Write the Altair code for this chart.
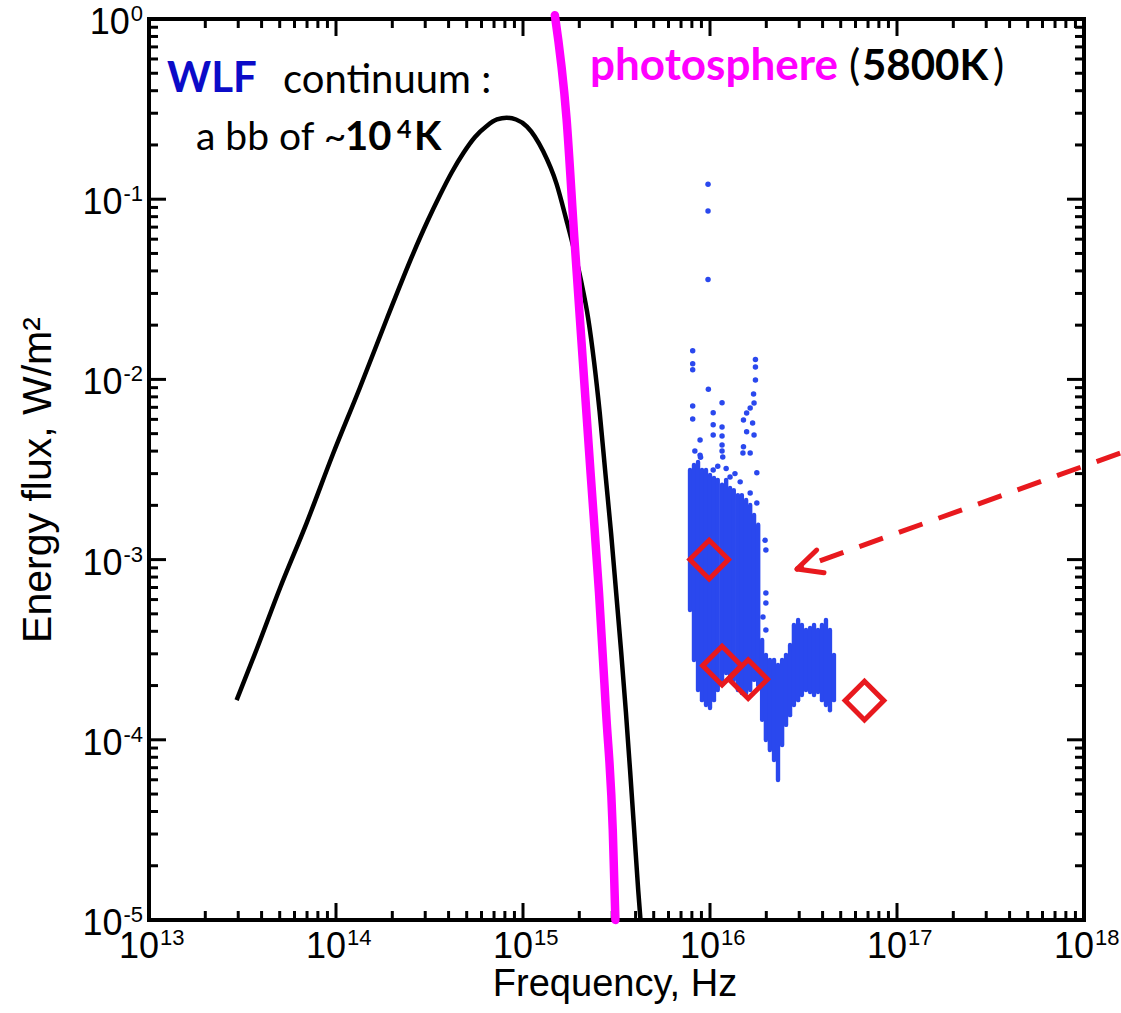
import altair as alt
import pandas as pd

W, H = 935, 901

# ---------------- axis ticks / labels ----------------
x_decades = [1e13, 1e14, 1e15, 1e16, 1e17, 1e18]
x_exponents = ["13", "14", "15", "16", "17", "18"]
y_decades = [1e-5, 1e-4, 1e-3, 1e-2, 1e-1, 1e0]
y_exponents = ["-5", "-4", "-3", "-2", "-1", "0"]
minor_mult = [2, 3, 4, 5, 6, 7, 8, 9]

# ---------------- WLF continuum: black body ~10^4 K ----------------
bb_freq = [2.94e13, 3.77e13, 5.02e13, 6.97e13, 9.67e13, 1.34e14, 1.87e14, 2.59e14,
           3.07e14, 3.60e14, 4.17e14, 4.80e14, 5.54e14, 6.40e14, 7.26e14, 8.18e14,
           9.18e14, 1.05e15, 1.28e15, 1.51e15, 1.71e15, 1.87e15, 2.04e15, 2.23e15,
           2.40e15, 2.57e15, 2.76e15, 2.96e15, 3.15e15, 3.35e15, 3.55e15, 3.74e15,
           3.93e15, 4.13e15, 4.25e15]
bb_flux = [1.66e-4, 3.19e-4, 6.96e-4, 1.60e-3, 3.89e-3, 8.96e-3, 0.0217, 0.0501,
           0.0747, 0.1055, 0.1416, 0.1804, 0.2214, 0.2548, 0.2769, 0.283,
           0.2769, 0.253, 0.185, 0.122, 0.076, 0.0529, 0.0356, 0.0219,
           0.0125, 6.59e-3, 2.99e-3, 1.39e-3, 6.53e-4, 3.07e-4, 1.43e-4, 6.71e-5,
           3.16e-5, 1.47e-5, 1.0e-5]

# ---------------- photosphere 5800 K ----------------
ph_freq = [1.48e15, 1.71e15, 1.88e15, 2.08e15, 2.30e15, 2.55e15, 2.78e15, 3.02e15, 3.12e15]
ph_flux = [1.05, 0.279, 0.0617, 0.0135, 2.99e-3, 6.53e-4, 1.43e-4, 3.16e-5, 1.0e-5]

# ---------------- dense part of the measured points (column extents) ----------------
band_freq = [7.82e15, 8.21e15, 8.63e15, 9.06e15, 9.52e15, 1.00e16, 1.05e16, 1.10e16,
             1.16e16, 1.22e16, 1.28e16, 1.34e16, 1.41e16, 1.48e16, 1.56e16, 1.64e16,
             1.72e16, 1.81e16, 1.90e16, 1.99e16, 2.09e16, 2.20e16, 2.31e16, 2.43e16,
             2.55e16, 2.68e16, 2.81e16, 2.96e16, 3.10e16, 3.26e16, 3.43e16, 3.60e16,
             3.78e16, 3.97e16, 4.17e16, 4.38e16, 4.60e16]
band_top = [3.14e-3, 3.35e-3, 3.48e-3, 3.14e-3, 3.14e-3, 2.95e-3, 2.84e-3, 2.77e-3,
            2.60e-3, 2.77e-3, 2.50e-3, 2.43e-3, 2.28e-3, 2.28e-3, 2.14e-3, 2.01e-3,
            1.77e-3, 1.56e-3, 3.58e-4, 2.96e-4, 2.77e-4, 2.77e-4, 2.60e-4, 2.77e-4,
            2.96e-4, 3.36e-4, 4.34e-4, 4.62e-4, 4.34e-4, 4.07e-4, 4.17e-4, 4.34e-4,
            4.07e-4, 4.34e-4, 4.62e-4, 4.07e-4, 2.96e-4]
band_bottom = [5.25e-4, 2.77e-4, 1.89e-4, 1.66e-4, 1.56e-4, 1.50e-4, 1.66e-4, 1.89e-4,
               2.15e-4, 2.35e-4, 2.29e-4, 2.15e-4, 1.89e-4, 1.82e-4, 1.82e-4, 1.89e-4,
               2.15e-4, 2.01e-4, 1.29e-4, 9.97e-5, 8.77e-5, 7.73e-5, 5.98e-5, 9.35e-5,
               1.21e-4, 1.37e-4, 1.56e-4, 1.66e-4, 1.77e-4, 1.89e-4, 1.84e-4, 1.77e-4,
               1.84e-4, 1.66e-4, 1.56e-4, 1.46e-4, 1.66e-4]

# ---------------- sparse measured points ----------------
dot_freq = [9.76e15, 9.76e15, 9.76e15, 8.08e15, 8.08e15, 8.08e15, 9.8e15, 8.08e15,
            8.08e15, 1.04e16, 1.16e16, 1.04e16, 1.04e16, 1.16e16, 1.16e16, 1.16e16,
            1.16e16, 8.85e15, 8.85e15, 1.75e16, 1.75e16, 1.75e16, 1.71e16, 1.72e16,
            1.64e16, 1.57e16, 1.51e16, 1.69e16, 1.57e16, 1.72e16, 1.51e16, 1.64e16,
            1.17e16, 1.50e16, 1.04e16, 1.28e16, 1.78e16, 1.78e16, 1.64e16, 1.97e16,
            1.99e16, 1.99e16, 1.99e16, 1.92e16, 1.99e16, 8.30e15, 1.10e16, 1.36e16,
            1.45e16, 8.90e15, 1.22e16]
dot_flux = [0.121, 0.0860, 0.0358, 0.0144, 0.0122, 0.0113, 8.81e-3, 7.12e-3,
            6.03e-3, 6.53e-3, 7.43e-3, 5.61e-3, 4.91e-3, 5.44e-3, 4.85e-3, 4.33e-3,
            4.01e-3, 4.61e-3, 3.80e-3, 0.0129, 0.0117, 9.93e-3, 8.30e-3, 7.40e-3,
            6.94e-3, 6.51e-3, 5.95e-3, 5.73e-3, 5.13e-3, 4.91e-3, 4.23e-3, 3.91e-3,
            3.71e-3, 3.91e-3, 3.14e-3, 2.87e-3, 3.03e-3, 2.06e-3, 2.34e-3, 1.28e-3,
            1.13e-3, 6.53e-4, 5.74e-4, 4.80e-4, 4.07e-4, 4.00e-3, 3.30e-3, 3.00e-3,
            2.70e-3, 3.70e-3, 3.20e-3]

# ---------------- red diamonds ----------------
obs_freq = [9.9e15, 1.16e16, 1.60e16, 6.7e16]
obs_flux = [1.0e-3, 2.58e-4, 2.17e-4, 1.65e-4]

# ---------------- dashed arrow ----------------
arrow_tail = (1.56e18, 3.9e-3)
arrow_tip = (2.92e16, 8.87e-4)
arrow_arm_a = (3.72e16, 1.13e-3)
arrow_arm_b = (4.07e16, 8.46e-4)

BLUE = "#2A48EE"
RED = "#E8191E"
MAGENTA = "#FF00FF"
WLF_BLUE = "#0B0BC8"

xs = alt.Scale(type="log", domain=[1e13, 1e18], nice=False)
ys = alt.Scale(type="log", domain=[1e-5, 1], nice=False)


def X(field):
    return alt.X(field, type="quantitative", scale=xs, axis=None)


def Y(field):
    return alt.Y(field, type="quantitative", scale=ys, axis=None)


layers = []

# ---- ticks (inward, on all four sides) ----
xmaj = pd.DataFrame({"v": x_decades})
xmin = pd.DataFrame({"v": [d * m for d in x_decades[:-1] for m in minor_mult]})
ymaj = pd.DataFrame({"v": y_decades})
ymin = pd.DataFrame({"v": [d * m for d in y_decades[:-1] for m in minor_mult]})

for df, L in [(xmaj, 17), (xmin, 9)]:
    layers.append(alt.Chart(df).mark_rule(color="black", strokeWidth=3).encode(
        x=X("v"), y=alt.value(H), y2=alt.value(H - L)))
    layers.append(alt.Chart(df).mark_rule(color="black", strokeWidth=3).encode(
        x=X("v"), y=alt.value(0), y2=alt.value(L)))
for df, L in [(ymaj, 17), (ymin, 9)]:
    layers.append(alt.Chart(df).mark_rule(color="black", strokeWidth=3).encode(
        y=Y("v"), x=alt.value(0), x2=alt.value(L)))
    layers.append(alt.Chart(df).mark_rule(color="black", strokeWidth=3).encode(
        y=Y("v"), x=alt.value(W), x2=alt.value(W - L)))

# ---- tick labels: "10" + superscript exponent ----
xlab = pd.DataFrame({"v": x_decades, "b": ["10"] * 6, "e": x_exponents})
layers.append(alt.Chart(xlab).mark_text(align="right", baseline="alphabetic", fontSize=36,
                                        font="Liberation Sans", dx=10).encode(
    x=X("v"), y=alt.value(H + 38), text="b:N"))
layers.append(alt.Chart(xlab).mark_text(align="left", baseline="alphabetic", fontSize=22,
                                        font="Liberation Sans", dx=11).encode(
    x=X("v"), y=alt.value(H + 25), text="e:N"))

EXP_FS = 22
exp_w = [sum(0.556 if c.isdigit() else 0.333 for c in e) * EXP_FS for e in y_exponents]
ylab = pd.DataFrame({"v": y_decades, "b": ["10"] * 6, "e": y_exponents,
                     "bx": [-6 - w - 1 for w in exp_w]})
layers.append(alt.Chart(ylab).mark_text(align="right", baseline="alphabetic", fontSize=EXP_FS,
                                        font="Liberation Sans", dy=2).encode(
    y=Y("v"), x=alt.value(-6), text="e:N"))
layers.append(alt.Chart(ylab).mark_text(align="right", baseline="alphabetic", fontSize=36,
                                        font="Liberation Sans", dy=15).encode(
    y=Y("v"), x=alt.X("bx:Q", scale=None, axis=None), text="b:N"))


# ---- free text helper ----
def txt(s, x, y, size, color="black", weight="normal", font="Lato", align="left", angle=0):
    return alt.Chart(pd.DataFrame({"t": [s]})).mark_text(
        align=align, baseline="alphabetic", fontSize=size, font=font,
        fontWeight=weight, color=color, angle=angle).encode(
        x=alt.value(x), y=alt.value(y), text="t:N")


# ---- axis titles ----
layers.append(txt("Frequency, Hz", 466, 977, 38, font="Liberation Sans", align="center"))
layers.append(txt("Energy flux, W/m²", -98, 461, 41, font="Liberation Sans",
                  align="center", angle=270))

# ---- black body curve ----
bb = pd.DataFrame({"f": bb_freq, "s": bb_flux})
layers.append(alt.Chart(bb).mark_line(color="black", strokeWidth=4.5,
                                      interpolate="monotone").encode(x=X("f"), y=Y("s")))

# ---- photosphere ----
ph = pd.DataFrame({"f": ph_freq, "s": ph_flux})
layers.append(alt.Chart(ph).mark_line(color=MAGENTA, strokeWidth=8.5, strokeCap="round",
                                      interpolate="monotone").encode(x=X("f"), y=Y("s")))

# ---- measured points ----
band = pd.DataFrame({"f": band_freq, "t": band_top, "b": band_bottom})
layers.append(alt.Chart(band).mark_rule(color=BLUE, strokeWidth=4.4, strokeCap="round").encode(
    x=X("f"), y=Y("t"), y2="b"))
dots = pd.DataFrame({"f": dot_freq, "s": dot_flux})
layers.append(alt.Chart(dots).mark_circle(color=BLUE, size=30, opacity=1).encode(
    x=X("f"), y=Y("s")))

# ---- red diamonds ----
obs = pd.DataFrame({"f": obs_freq, "s": obs_flux})
layers.append(alt.Chart(obs).mark_point(shape="diamond", filled=False, color=RED,
                                        strokeWidth=5, size=1500, opacity=1).encode(
    x=X("f"), y=Y("s")))

# ---- dashed arrow ----
shaft = pd.DataFrame({"f": [arrow_tail[0]], "s": [arrow_tail[1]],
                      "f2": [arrow_tip[0]], "s2": [arrow_tip[1]]})
layers.append(alt.Chart(shaft).mark_rule(color=RED, strokeWidth=5, strokeDash=[25, 17]).encode(
    x=X("f"), y=Y("s"), x2="f2", y2="s2"))
head = pd.DataFrame({"f": [arrow_tip[0], arrow_tip[0]], "s": [arrow_tip[1], arrow_tip[1]],
                     "f2": [arrow_arm_a[0], arrow_arm_b[0]],
                     "s2": [arrow_arm_a[1], arrow_arm_b[1]]})
layers.append(alt.Chart(head).mark_rule(color=RED, strokeWidth=5, strokeCap="round").encode(
    x=X("f"), y=Y("s"), x2="f2", y2="s2"))

# ---- annotations ----
layers.append(txt("WLF", 18, 73, 42, color=WLF_BLUE, weight="bold"))
layers.append(txt("continuum :", 134, 74, 40))
layers.append(txt("a bb of ~", 47, 131, 39))
layers.append(txt("10", 196, 131, 40, weight="bold"))
layers.append(txt("4", 248, 119, 25, weight="bold"))
layers.append(txt("K", 265, 131, 40, weight="bold"))
layers.append(txt("photosphere", 441, 61, 44, color=MAGENTA, weight="bold"))
layers.append(txt("(", 700, 61, 42))
layers.append(txt("5800K", 713, 61, 42, weight="bold"))
layers.append(txt(")", 844, 61, 42))

chart = alt.layer(*layers).properties(
    width=W, height=H,
    padding={"left": 149, "top": 19, "right": 37, "bottom": 93},
    autosize=alt.AutoSizeParams(type="none"),
    background="white",
).configure_view(stroke="black", strokeWidth=4)

chart.save("out.html", embed_options={"renderer": "svg", "actions": False})
